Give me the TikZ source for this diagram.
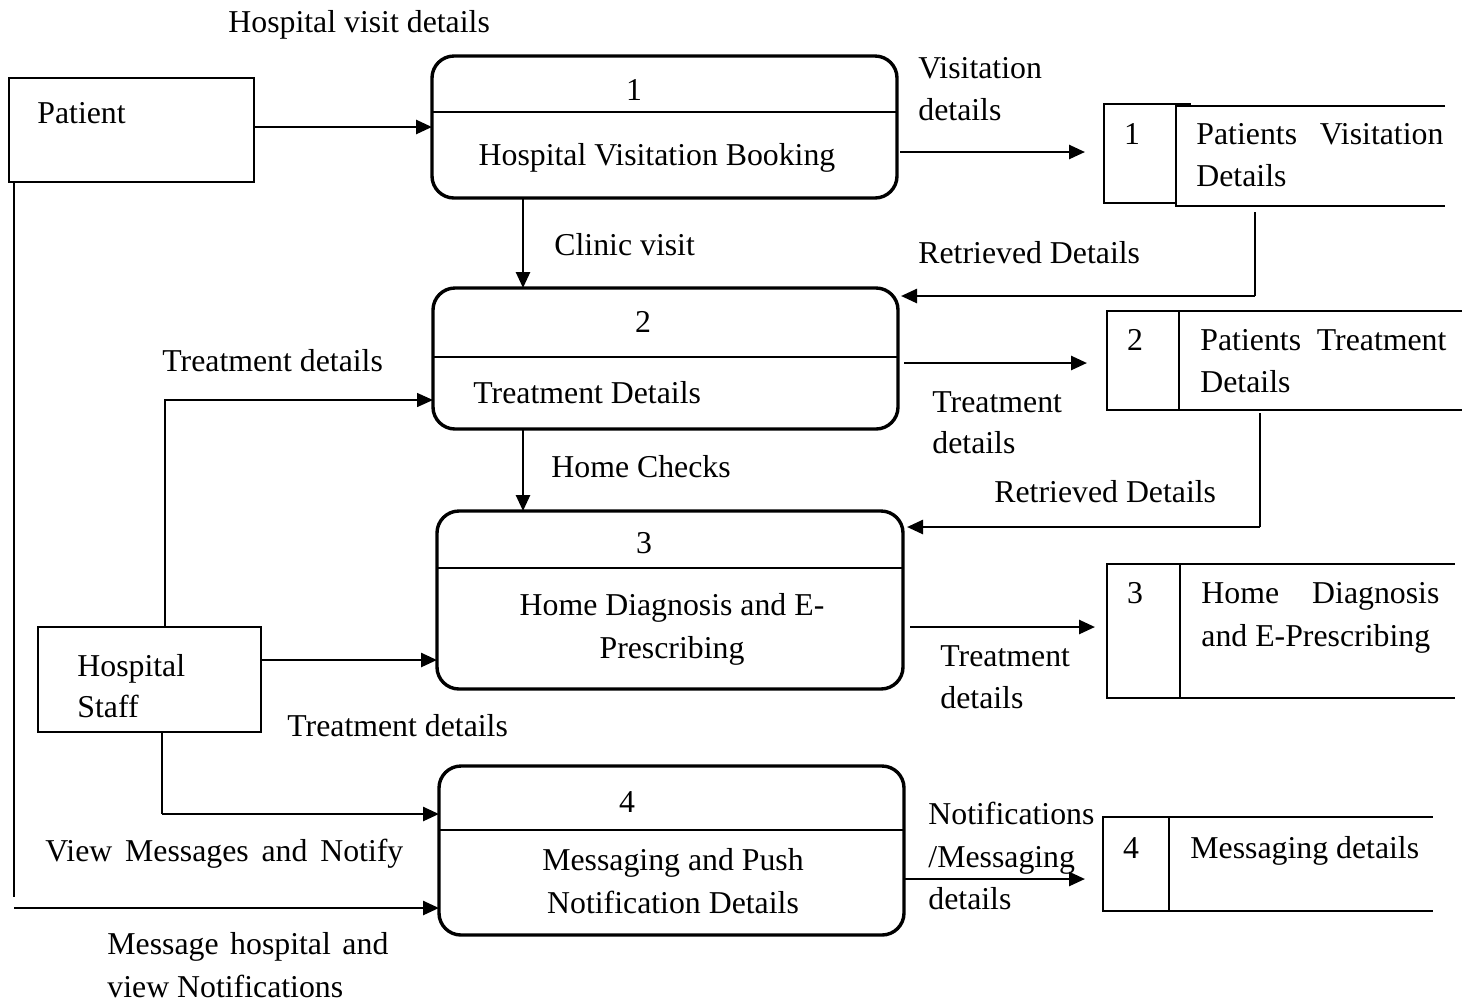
\documentclass[tikz,border=0pt]{standalone}
\usepackage{fontspec}
\setmainfont{Liberation Serif}
\usetikzlibrary{arrows.meta}
\begin{document}
\begin{tikzpicture}[x=0.5pt,y=-0.5pt,
  txt/.style={anchor=base west,inner sep=0pt,font=\fontsize{15.9}{21}\selectfont},
  ctxt/.style={anchor=base,inner sep=0pt,font=\fontsize{15.9}{21}\selectfont},
  proc/.style={draw,line width=1.7pt,rounded corners=11pt,inner sep=0pt,outer sep=0pt},
  ext/.style={draw,line width=1.4pt,inner sep=0pt,outer sep=0pt},
  storebox/.style={draw,line width=0.7pt,inner sep=0pt,outer sep=0pt},
  thinln/.style={line width=0.7pt},
  flow/.style={line width=1.3pt,-{Triangle[length=8pt,width=7pt]}},
  thinflow/.style={line width=0.7pt,-{Triangle[length=8pt,width=7pt]}},
]
\useasboundingbox[fill=white] (0,0) rectangle (1467,1003);

% processes
\node[proc,minimum width=232.5pt,minimum height=71pt] (p1) at (664.5,127) {};
\node[proc,minimum width=232.5pt,minimum height=70.5pt] (p2) at (665.5,358.5) {};
\node[proc,minimum width=233pt,minimum height=89pt] (p3) at (670,600) {};
\node[proc,minimum width=232.5pt,minimum height=84.5pt] (p4) at (671.5,850.5) {};
\draw[thinln] (p1.west |- 0,112) -- (p1.east |- 0,112);
\draw[thinln] (p2.west |- 0,357) -- (p2.east |- 0,357);
\draw[thinln] (p3.west |- 0,568) -- (p3.east |- 0,568);
\draw[thinln] (p4.west |- 0,830) -- (p4.east |- 0,830);
\node[ctxt] (p1n) at (634,100) {1};
\node[ctxt] (p1t) at (657,165) {Hospital Visitation Booking};
\node[ctxt] (p2n) at (643,332) {2};
\node[txt] (p2t) at (473,403) {Treatment Details};
\node[ctxt] (p3n) at (644,553) {3};
\node[ctxt] (p3a) at (672,615) {Home Diagnosis and E-};
\node[ctxt] (p3b) at (672,658) {Prescribing};
\node[ctxt] (p4n) at (627,812) {4};
\node[ctxt] (p4a) at (673,870) {Messaging and Push};
\node[ctxt] (p4b) at (673,913) {Notification Details};

% external entities
\node[ext,minimum width=122.5pt,minimum height=52pt] (patient) at (131.5,130) {};
\node[txt] (patientt) at (37,123) {Patient};
\node[ext,minimum width=111.5pt,minimum height=52.5pt] (staff) at (149.5,679.5) {};
\node[txt] (stafft1) at (77,676) {Hospital};
\node[txt] (stafft2) at (77,717) {Staff};

% data stores
\node[storebox,minimum width=43pt,minimum height=49.5pt] (s1) at (1147,153.5) {};
\fill[white] (1176,106) rectangle (1445,206);
\draw[thinln] (1445,106) -- (1176,106) -- (1176,206) -- (1445,206);
\node[ctxt] (s1n) at (1132,144) {1};
\node[txt] (s1a) at (1196,144) {\makebox[123.5pt][s]{Patients Visitation}};
\node[txt] (s1b) at (1196,186) {Details};

\node[storebox,minimum width=36pt,minimum height=49.5pt] (s2) at (1143,360.5) {};
\draw[thinln] (s2.north east) -- (1462,311);
\draw[thinln] (s2.south east) -- (1462,410);
\node[ctxt] (s2n) at (1135,350) {2};
\node[txt] (s2a) at (1200,350) {\makebox[123pt][s]{Patients Treatment}};
\node[txt] (s2b) at (1200,392) {Details};

\node[storebox,minimum width=36.5pt,minimum height=67pt] (s3) at (1143.5,631) {};
\draw[thinln] (s3.north east) -- (1455,564);
\draw[thinln] (s3.south east) -- (1455,698);
\node[ctxt] (s3n) at (1135,603) {3};
\node[txt] (s3a) at (1201,603) {\makebox[119pt][s]{Home Diagnosis}};
\node[txt] (s3b) at (1201,646) {and E-Prescribing};

\node[storebox,minimum width=33pt,minimum height=47pt] (s4) at (1136,864) {};
\draw[thinln] (s4.north east) -- (1433,817);
\draw[thinln] (s4.south east) -- (1433,911);
\node[ctxt] (s4n) at (1131,858) {4};
\node[txt] (s4a) at (1190,858) {Messaging details};

% connectors
\draw[flow] (patient.east |- 0,127) -- (p1.west |- 0,127);
\draw[flow,shorten <=1.5pt,shorten >=9.5pt] (p1.east |- 0,152) -- (s1.west |- 0,152);
\draw[flow] (p1.south -| 523,0) -- (p2.north -| 523,0);
\coordinate (r1) at (1255,212);
\coordinate (k1) at (1255,296);
\draw[thinln] (r1) -- (k1);
\draw[flow,shorten >=1.5pt] (k1) -- (p2.east |- k1);
\draw[flow,shorten <=3pt,shorten >=10pt] (p2.east |- 0,363) -- (s2.west |- 0,363);
\draw[thinflow] (staff.north -| 165,0) -- (165,400) -- (p2.west |- 0,400);
\draw[flow] (p2.south -| 523,0) -- (p3.north -| 523,0);
\coordinate (r2) at (1260,413);
\coordinate (k2) at (1260,527);
\draw[thinln] (r2) -- (k2);
\draw[flow,shorten >=2pt] (k2) -- (p3.east |- k2);
\draw[flow] (staff.east |- 0,660) -- (p3.west |- 0,660);
\draw[flow,shorten <=3.5pt,shorten >=6pt] (p3.east |- 0,627) -- (s3.west |- 0,627);
\coordinate (k3) at (162,814);
\draw[thinln] (staff.south -| k3) -- (k3);
\draw[flow] (k3) -- (p4.west |- k3);
\coordinate (k4) at (14,897);
\coordinate (k5) at (14,908);
\draw[thinln] (patient.south -| k4) -- (k4);
\draw[flow] (k5) -- (p4.west |- k5);
\draw[flow,shorten >=9pt] (p4.east |- 0,879) -- (s4.west |- 0,879);

% flow labels
\node[txt] (l1) at (228,32) {Hospital visit details};
\node[txt] (l2a) at (918,78) {Visitation};
\node[txt] (l2b) at (918,120) {details};
\node[txt] (l3) at (554,255) {Clinic visit};
\node[txt] (l4) at (918,263) {Retrieved Details};
\node[txt] (l5) at (162,371) {Treatment details};
\node[txt] (l6a) at (932,412) {Treatment};
\node[txt] (l6b) at (932,453) {details};
\node[txt] (l7) at (551,477) {Home Checks};
\node[txt] (l8) at (994,502) {Retrieved Details};
\node[txt] (l9a) at (940,666) {Treatment};
\node[txt] (l9b) at (940,708) {details};
\node[txt] (l10) at (287,736) {Treatment details};
\node[txt] (l11) at (45,861) {\makebox[179pt][s]{View Messages and Notify}};
\node[txt] (l12a) at (928,824) {Notifications};
\node[txt] (l12b) at (928,867) {/Messaging};
\node[txt] (l12c) at (928,909) {details};
\node[txt] (l13a) at (107,954) {\makebox[140.5pt][s]{Message hospital and}};
\node[txt] (l13b) at (107,997) {view Notifications};
\end{tikzpicture}
\end{document}
